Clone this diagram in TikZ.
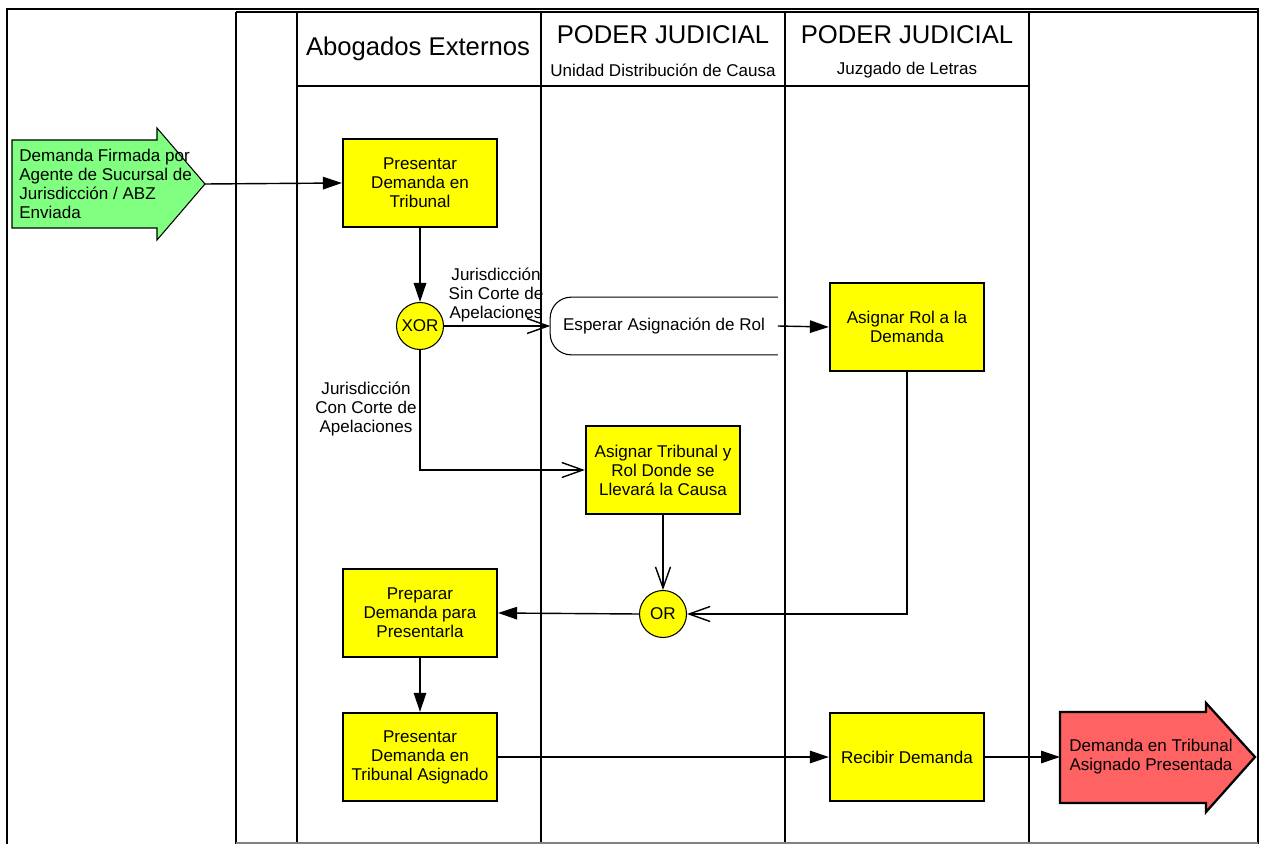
\documentclass[tikz,border=0pt]{standalone}
\usepackage{fontspec}
\setmainfont{Liberation Sans}
\usetikzlibrary{arrows.meta}
\definecolor{boxyellow}{HTML}{FFFF00}
\definecolor{startgreen}{HTML}{80FF80}
\definecolor{endred}{HTML}{FF6262}
\begin{document}
\begin{tikzpicture}[x=0.02cm, y=-0.02cm,
  every node/.style={font=\fontsize{9.7}{10.8}\selectfont, inner sep=0pt},
  taskbox/.style={draw, fill=boxyellow, line width=1.3pt, minimum width=3.08cm, minimum height=1.76cm, align=center},
  gate/.style={circle, draw, fill=boxyellow, line width=0.6pt, minimum size=0.94cm},
  lbl/.style={align=center},
  conn/.style={line width=0.8pt},
  filltip/.style={conn, -{Triangle[length=0.38cm,width=0.25cm]}},
  opentip/.style={conn, -{Straight Barb[length=0.42cm,width=0.3cm]}},
  lane/.style={line width=0.7pt},
  hdr/.style={font=\fontsize{14.6}{16}\selectfont},
  sub/.style={font=\fontsize{9.7}{11}\selectfont}]
\useasboundingbox (0,0) rectangle (1264,844);
% frame and lanes
\draw[line width=1.2pt] (7,844) -- (7,9) -- (1258,9) -- (1258,844);
\draw[lane] (236,12) -- (1258,12);
\foreach \x in {236,297,541,785,1029} \draw[lane] (\x,12) -- (\x,844);
\draw[lane] (297,86) -- (1029,86);
\draw[line width=0.6pt, gray] (236,843) -- (1258,843);
% headers
\node[hdr] (h1) at (418,49) {Abogados Externos};
\node[hdr] (h2) at (663,35) {PODER JUDICIAL};
\node[sub] (h2s) at (663,70) {Unidad Distribución de Causa};
\node[hdr] (h3) at (907,35) {PODER JUDICIAL};
\node[sub] (h3s) at (907,70) {Juzgado de Letras};
% start event
\filldraw[fill=startgreen, line width=0.6pt] (12,140) -- (157,140) -- (157,128) -- (205,184) -- (157,240) -- (157,228) -- (12,228) -- cycle;
\coordinate (starttip) at (205,184);
\node[anchor=west, align=left] (start) at (19,184) {Demanda Firmada por\\Agente de Sucursal de\\Jurisdicción / ABZ\\Enviada};
% tasks
\node[taskbox] (t1) at (420,183) {Presentar\\Demanda en\\Tribunal};
\node[gate] (xor) at (420,326) {XOR};
\node[minimum width=4.54cm, minimum height=1.14cm] (esp) at (664,326) {Esperar Asignación de Rol};
\draw[line width=0.6pt, rounded corners=0.42cm] (esp.north east) -- (esp.north west) -- (esp.south west) -- (esp.south east);
\node[taskbox] (rol) at (907,327) {Asignar Rol a la\\Demanda};
\node[taskbox] (trib) at (663,470) {Asignar Tribunal y\\Rol Donde se\\Llevará la Causa};
\node[gate] (or) at (663,614) {OR};
\node[taskbox] (prep) at (420,613) {Preparar\\Demanda para\\Presentarla};
\node[taskbox] (pres) at (420,757) {Presentar\\Demanda en\\Tribunal Asignado};
\node[taskbox] (rec) at (907,757) {Recibir Demanda};
% end event
\filldraw[fill=endred, line width=1.3pt] (1060,712) -- (1206,712) -- (1206,703) -- (1255,757) -- (1206,812) -- (1206,803) -- (1060,803) -- cycle;
\coordinate (endtail) at (1060,757);
\node[align=center] (end) at (1151,757) {Demanda en Tribunal\\Asignado Presentada};
% labels
\node[lbl] (l1) at (496,295) {Jurisdicción\\Sin Corte de\\Apelaciones};
\node[lbl] (l2) at (366,409) {Jurisdicción\\Con Corte de\\Apelaciones};
% connectors
\draw[filltip] (starttip) -- (t1.west);
\draw[filltip] (t1.south) -- (xor.north);
\draw[opentip] (xor.east) -- (esp.west);
\draw[filltip] (esp.east) -- (rol.west);
\draw[opentip] (xor.south) |- (trib.west);
\draw[opentip] (trib.south) -- (or.north);
\draw[opentip] (rol.south) |- (or.east);
\draw[filltip] (or.west) -- (prep.east);
\draw[filltip] (prep.south) -- (pres.north);
\draw[filltip] (pres.east) -- (rec.west);
\draw[filltip] (rec.east) -- (endtail);
\end{tikzpicture}
\end{document}
